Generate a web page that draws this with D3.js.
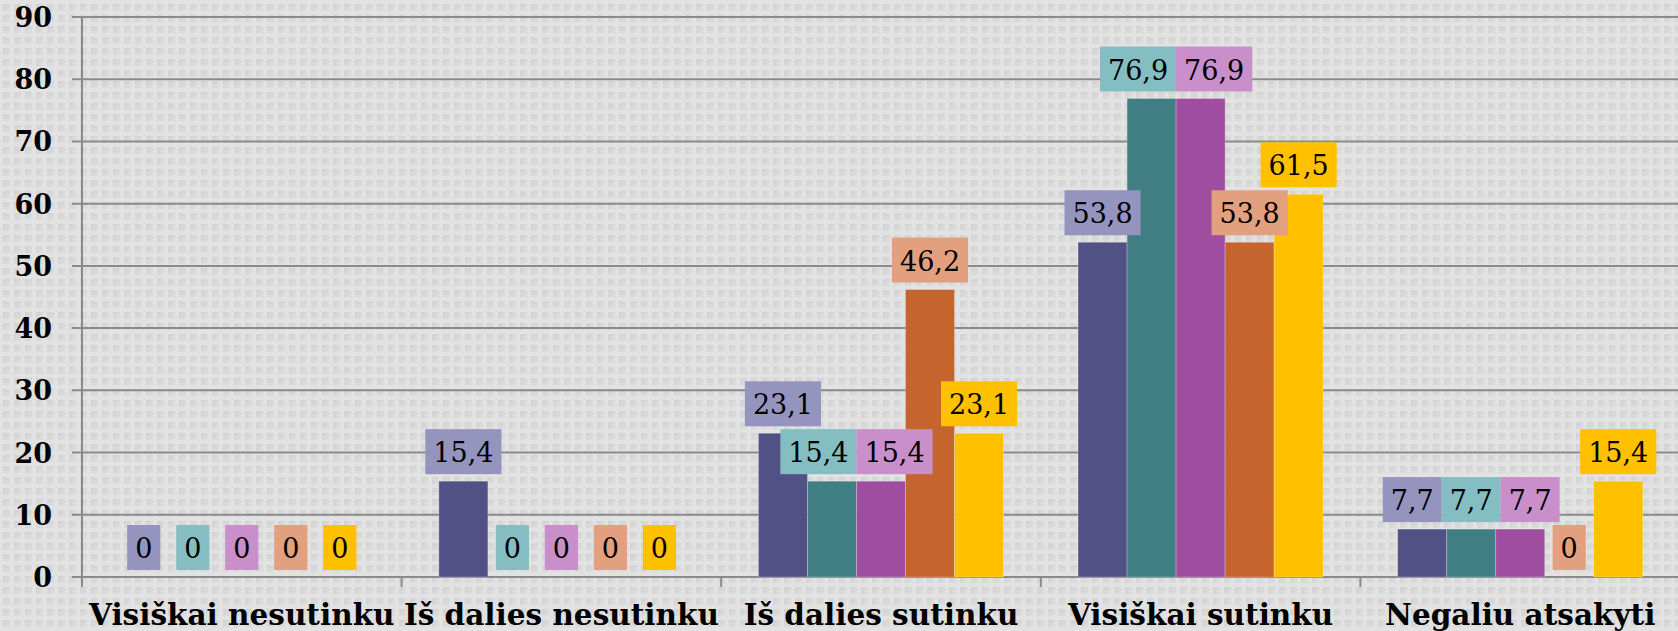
<!DOCTYPE html>
<html lang="lt">
<head>
<meta charset="UTF-8">
<title>Atsakymai</title>
<script src="https://d3js.org/d3.v7.min.js"></script>
<style>
    body { margin: 0; background: #e1e1e1; }
    svg { display: block; }
</style>
</head>
<body>
<svg id="chart" width="1678" height="631"></svg>
<script>
// Data
const categories = ["Visiškai nesutinku", "Iš dalies nesutinku", "Iš dalies sutinku", "Visiškai sutinku", "Negaliu atsakyti"];
const seriesNames = ["S1", "S2", "S3", "S4", "S5"];
const s1 = [0, 15.4, 23.1, 53.8, 7.7];
const s2 = [0, 0, 15.4, 76.9, 7.7];
const s3 = [0, 0, 15.4, 76.9, 7.7];
const s4 = [0, 0, 46.2, 53.8, 0];
const s5 = [0, 0, 23.1, 61.5, 15.4];
const yTicks = [0, 10, 20, 30, 40, 50, 60, 70, 80, 90];

const seriesValues = [s1, s2, s3, s4, s5];
const barColors = ["#525186", "#407e83", "#9e4da0", "#c5642c", "#ffc000"];
const boxColors = ["#9594be", "#84bec2", "#c88fcb", "#e2a07e", "#ffc000"];

const W = 1678, H = 631;
const margin = {top: 17, right: -2, bottom: 54, left: 82};

const svg = d3.select("#chart");

// dotted background
const defs = svg.append("defs");
const grad = defs.append("linearGradient").attr("id", "dotGrad")
    .attr("x1", 0).attr("y1", 0).attr("x2", 1).attr("y2", 1);
grad.append("stop").attr("offset", "0%").attr("stop-color", "#d1d1d1");
grad.append("stop").attr("offset", "100%").attr("stop-color", "#dedede");
const pat = defs.append("pattern").attr("id", "dots")
    .attr("width", 11).attr("height", 11).attr("patternUnits", "userSpaceOnUse")
    .attr("x", 1).attr("y", 2);
pat.append("rect").attr("width", 11).attr("height", 11).attr("fill", "#e2e2e2");
pat.append("rect").attr("x", 2).attr("y", 2).attr("width", 7).attr("height", 7).attr("fill", "url(#dotGrad)");
svg.append("rect").attr("width", W).attr("height", H).attr("fill", "url(#dots)");

// scales
const x = d3.scaleBand().domain(categories)
    .range([margin.left, W - margin.right]).paddingInner(0).paddingOuter(0);
const xs = d3.scaleBand().domain(seriesNames)
    .range([0, x.bandwidth()]).paddingInner(0).paddingOuter(0.76);
const y = d3.scaleLinear().domain([0, 90]).range([H - margin.bottom, margin.top]);

const gridColor = "#8a8a8a";

// gridlines + y ticks
svg.append("g").selectAll("line").data(yTicks).join("line")
    .attr("x1", margin.left - 10).attr("x2", W)
    .attr("y1", d => y(d)).attr("y2", d => y(d))
    .attr("stroke", gridColor).attr("stroke-width", 2);

svg.append("g").selectAll("text").data(yTicks).join("text")
    .attr("x", 52).attr("y", d => y(d) + 10)
    .attr("text-anchor", "end")
    .attr("font-family", "DejaVu Serif")
    .attr("font-weight", "bold")
    .attr("font-size", 27)
    .attr("fill", "#000")
    .text(d => d);

// y axis line
svg.append("line")
    .attr("x1", margin.left).attr("x2", margin.left)
    .attr("y1", y(90)).attr("y2", y(0) + 10)
    .attr("stroke", gridColor).attr("stroke-width", 2);

// x tick marks at category boundaries
svg.append("g").selectAll("line").data(categories.slice(1)).join("line")
    .attr("x1", d => x(d)).attr("x2", d => x(d))
    .attr("y1", y(0)).attr("y2", y(0) + 10)
    .attr("stroke", gridColor).attr("stroke-width", 2);

// bars
const bars = [];
categories.forEach((c, ci) => {
    seriesNames.forEach((s, si) => {
        bars.push({cat: c, ser: s, si: si, v: seriesValues[si][ci]});
    });
});

svg.append("g").selectAll("rect").data(bars.filter(d => d.v > 0)).join("rect")
    .attr("x", d => x(d.cat) + xs(d.ser))
    .attr("width", xs.bandwidth())
    .attr("y", d => y(d.v))
    .attr("height", d => y(0) - y(d.v))
    .attr("fill", d => barColors[d.si])
    .attr("stroke", "rgba(255,255,255,0.25)")
    .attr("stroke-width", 1);

// category labels
svg.append("g").selectAll("text").data(categories).join("text")
    .attr("x", d => x(d) + x.bandwidth() / 2)
    .attr("y", 625)
    .attr("text-anchor", "middle")
    .attr("font-family", "DejaVu Serif")
    .attr("font-weight", "bold")
    .attr("font-size", 29.5)
    .attr("fill", "#000")
    .text(d => d);

// value labels with boxes
const fmt = v => String(v).replace(".", ",");
const labelG = svg.append("g");
const boxH = 45, padX = 8, gap = 7;

const labels = bars.map(d => {
    const t = labelG.append("text")
        .attr("font-family", "DejaVu Serif")
        .attr("font-size", 27)
        .attr("fill", "#000")
        .attr("text-anchor", "middle")
        .text(fmt(d.v));
    const w = t.node().getComputedTextLength() + padX * 2;
    const cx = x(d.cat) + xs(d.ser) + xs.bandwidth() / 2;
    const bottom = y(d.v) - gap;
    return Object.assign({}, d, {t, w, cx, top: bottom - boxH, bottom});
});

// push overlapping labels apart sideways
for (let pass = 0; pass < 30; pass++) {
    for (let i = 0; i < labels.length; i++) {
        for (let j = i + 1; j < labels.length; j++) {
            const a = labels[i], b = labels[j];
            if (a.cat !== b.cat) continue;
            const yov = Math.min(a.bottom, b.bottom) - Math.max(a.top, b.top);
            if (yov <= 0) continue;
            const xov = Math.min(a.cx + a.w / 2, b.cx + b.w / 2) - Math.max(a.cx - a.w / 2, b.cx - b.w / 2);
            if (xov <= 0.01) continue;
            const [l, r] = a.cx <= b.cx ? [a, b] : [b, a];
            l.cx -= xov / 2;
            r.cx += xov / 2;
        }
    }
}

labels.forEach(d => {
    labelG.insert("rect", "text")
        .attr("x", d.cx - d.w / 2).attr("y", d.top)
        .attr("width", d.w).attr("height", boxH)
        .attr("fill", boxColors[d.si]);
    d.t.attr("x", d.cx).attr("y", d.bottom - 12);
});
</script>
</body>
</html>
